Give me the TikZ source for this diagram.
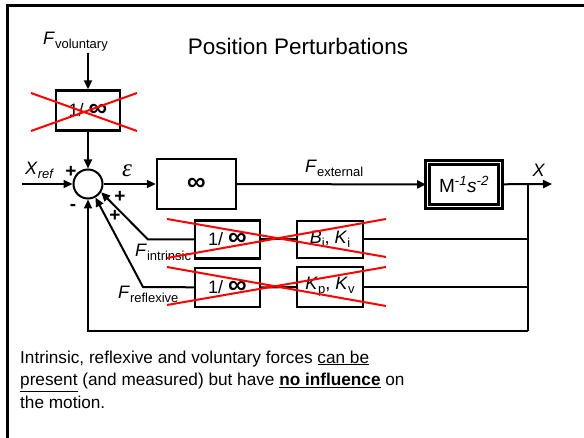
\documentclass[tikz,border=0pt]{standalone}
\usepackage{fontspec}
\setmainfont{Liberation Sans}
\newfontfamily\serifit{Liberation Serif}
\usetikzlibrary{arrows.meta}
\newcommand{\lsub}[1]{\raisebox{-4pt}{\fontsize{13}{13}\selectfont #1}}
\newcommand{\binf}{{\fontsize{26}{20}\selectfont\textbf{∞}}}
\begin{document}
\begin{tikzpicture}[x=1pt,y=-1pt,
  line/.style={line width=2pt},
  arr/.style={line width=2pt,-{Triangle[length=9pt,width=8pt]}},
  blk/.style={draw,line width=2.4pt,inner sep=0pt},
  cross/.style={red,line width=2pt},
  lbl/.style={inner sep=0pt,font=\fontsize{18}{20}\selectfont},
  sgn/.style={inner sep=0pt,font=\fontsize{19}{19}\selectfont\bfseries},
  txt/.style={inner sep=0pt,anchor=base west,font=\fontsize{17.2}{23}\selectfont},
]
\useasboundingbox (0,0) rectangle (584,438);
\draw[line width=3pt] (7,440) -- (7,5.5) -- (590,5.5);

\node[anchor=base,inner sep=0pt,font=\fontsize{22.5}{24}\selectfont] (title) at (298,55) {Position Perturbations};

% blocks
\node[draw,circle,line width=2pt,minimum size=29pt,inner sep=0pt] (sum) at (88,184) {};
\node[blk,minimum width=64pt,minimum height=40pt,font=\fontsize{18}{20}\selectfont] (vol) at (88,110.5) {1/ \binf};
\node[blk,minimum width=79pt,minimum height=50pt,font=\fontsize{18}{20}\selectfont] (inf) at (196.5,184) {\binf};
\node[draw,double,line width=2.6pt,double distance=1.5pt,minimum width=73.3pt,minimum height=44.3pt,inner sep=0pt,font=\fontsize{19}{20}\selectfont] (M) at (464,184.5) {M\textsuperscript{-\textit{1}}\textit{s}\textsuperscript{\textit{-2}}};
\node[blk,minimum width=65pt,minimum height=38pt,font=\fontsize{18}{20}\selectfont] (I1) at (227.5,239.5) {1/ \binf};
\node[blk,minimum width=65pt,minimum height=39pt,font=\fontsize{18}{20}\selectfont] (I2) at (227.5,287.5) {1/ \binf};
\node[blk,minimum width=66pt,minimum height=37pt,font=\fontsize{18}{20}\selectfont] (B1) at (330,239.5) {\textit{B}\lsub{i}, \textit{K}\lsub{i}};
\node[blk,minimum width=66pt,minimum height=40pt,font=\fontsize{18}{20}\selectfont] (B2) at (330,287) {\textit{K}\lsub{p}, \textit{K}\lsub{v}};

% coordinates
\coordinate (xin) at (22,184);
\coordinate (out) at (552,184);
\coordinate (br) at (528,184);
\coordinate (r1) at (528,239.5);
\coordinate (r2) at (528,287);
\coordinate (bot) at (528,331);
\coordinate (corner) at (88,331);
\coordinate (k1) at (148,239.5);
\coordinate (k2) at (143,287);
\coordinate (fvs) at (88,53);

% connectors
\draw[arr] (fvs) -- (vol);
\draw[arr] (vol) -- (sum);
\draw[arr] (xin) -- (sum);
\draw[arr] (sum) -- (inf);
\draw[arr] (inf) -- (M);
\draw[arr] (M) -- (out);
\draw[line] (br) -- (bot);
\draw[arr] (bot) -- (corner) -- (sum);
\draw[line] (r1) -- (B1);
\draw[line] (B1) -- (I1);
\draw[arr] (I1) -- (k1) -- (sum.-32);
\draw[line] (r2) -- (B2);
\draw[line] (B2) -- (I2);
\draw[arr] (I2) -- (k2) -- (sum.-61);

% labels
\node[lbl,anchor=base west] (fvl) at (43,45) {\textit{F}\lsub{voluntary}};
\node[lbl,anchor=base west] (xrl) at (25,175) {\textit{X}\lsub{\textit{ref}}};
\node[sgn] (p1) at (71,172) {+};
\node[sgn] (m1) at (73,207) {-};
\node[sgn] (p2) at (120,197) {+};
\node[sgn] (p3) at (115,216) {+};
\node[inner sep=0pt,font=\fontsize{25}{25}\selectfont\serifit\itshape] (eps) at (127,171) {ε};
\node[lbl,anchor=base west] (fel) at (305,173) {\textit{F}\lsub{external}};
\node[lbl,anchor=base] (xl) at (539,177) {\textit{X}};
\node[lbl,anchor=base west] (fil) at (135,257) {\textit{F}\lsub{intrinsic}};
\node[lbl,anchor=base west] (frl) at (118,299) {\textit{F}\lsub{reflexive}};

% red crosses
\draw[cross] (31,93) -- (137,131);
\draw[cross] (31,131) -- (137,93);
\draw[cross] (167,219) -- (386,257);
\draw[cross] (167,258) -- (386,219);
\draw[cross] (167,267) -- (386,306);
\draw[cross] (167,305) -- (386,267);

% bottom text
\node[txt] (t1) at (20,363) {Intrinsic, reflexive and voluntary forces \underline{can be}};
\node[txt] (t2) at (20,386) {\underline{present} (and measured) but have \textbf{\underline{no influence}} on};
\node[txt] (t3) at (20,409) {the motion.};
\end{tikzpicture}
\end{document}
